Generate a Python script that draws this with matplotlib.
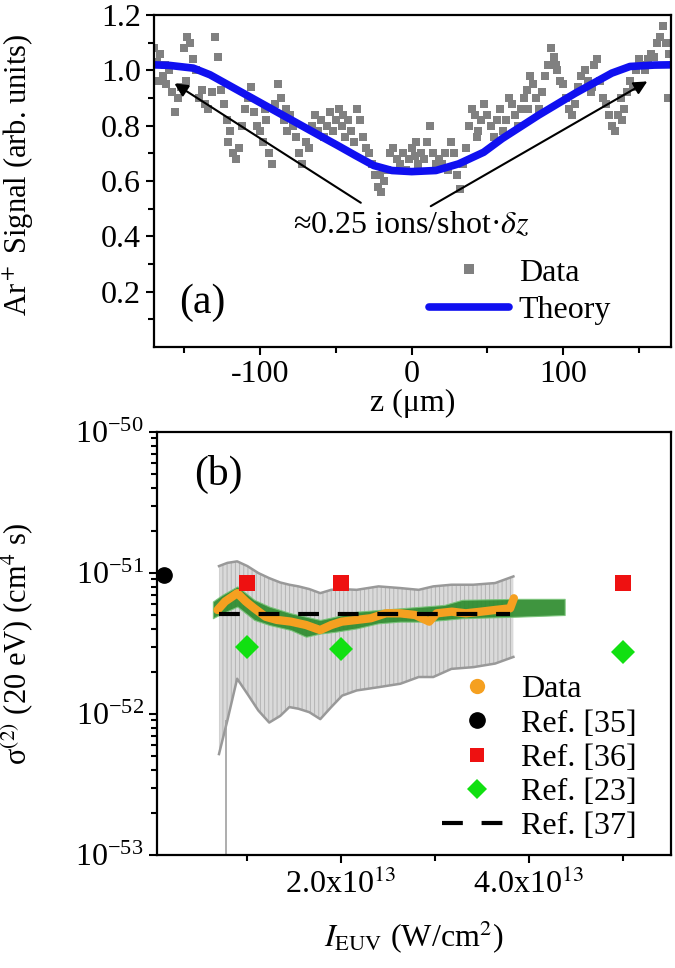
import numpy as np
import matplotlib
matplotlib.use("Agg")
import matplotlib.pyplot as plt
from matplotlib.lines import Line2D

plt.rcParams['font.family'] = ['Liberation Serif', 'DejaVu Serif']
plt.rcParams['mathtext.fontset'] = 'stix'
plt.rcParams['axes.unicode_minus'] = False
plt.rcParams['hatch.linewidth'] = 0.7

# ---- panel (a): Ar+ signal vs z ----
z_data = np.arange(-170, 171, 2)
sig_data = [
    1.08, 1.03, 1.06, 0.98, 0.95, 1.00, 0.92, 0.85, 0.90, 0.94,
    1.08, 1.12, 1.10, 1.04, 1.00, 0.90, 0.93, 0.88, 0.86, 0.92,
    1.12, 1.05, 0.93, 0.88, 0.82, 0.78, 0.70, 0.68, 0.72, 0.80,
    0.86, 0.90, 0.94, 0.85, 0.80, 0.78, 0.74, 0.82, 0.70, 0.66,
    0.88, 0.95, 0.90, 0.82, 0.78, 0.84, 0.80, 0.76, 0.70, 0.66,
    0.74, 0.72, 0.80, 0.84, 0.78, 0.82, 0.76, 0.80, 0.85, 0.78,
    0.82, 0.86, 0.80, 0.76, 0.82, 0.78, 0.74, 0.86, 0.82, 0.76,
    0.72, 0.70, 0.66, 0.62, 0.58, 0.56, 0.60, 0.64, 0.70, 0.72,
    0.68, 0.66, 0.70, 0.64, 0.68, 0.72, 0.69, 0.66, 0.70, 0.68,
    0.74, 0.80, 0.70, 0.66, 0.68, 0.66, 0.70, 0.64, 0.74, 0.70,
    0.62, 0.57, 0.66, 0.72, 0.80, 0.86, 0.84, 0.78, 0.82, 0.88,
    0.84, 0.80, 0.76, 0.82, 0.86, 0.78, 0.82, 0.90, 0.88, 0.84,
    0.80, 0.86, 0.90, 0.93, 0.98, 0.95, 0.90, 0.86, 0.92, 0.98,
    1.02, 1.08, 1.05, 1.00, 0.96, 0.95, 0.90, 0.86, 0.84, 0.88,
    0.94, 0.98, 1.00, 0.96, 0.92, 1.02, 1.04, 0.96, 0.90, 0.88,
    0.84, 0.80, 0.78, 0.84, 0.90, 0.86, 0.92, 0.96, 0.94, 1.00,
    1.04, 1.02, 1.00, 1.04, 1.06, 1.05, 1.10, 1.12, 1.16, 1.10,
    1.06,
]
# a few extra points seen off the main trace
z_extra = [-167, -163, -149, -121, -97, -83, -45, -21, 3, 43, 77, 95, 119, 139, 169]
sig_extra = [0.96, 1.02, 0.96, 0.74, 0.86, 0.86, 0.84, 0.62, 0.74, 0.76, 0.86, 1.02, 0.94, 0.82, 0.90]

z_theory = [-171, -160, -144, -133, -109, -85, -61, -49, -37, -25, -13,
            0, 16, 31, 47.5, 59.6, 83.7, 107.8, 132, 144, 160, 172]
sig_theory = [1.02, 1.018, 1.008, 0.984, 0.911, 0.838, 0.765, 0.729, 0.692,
              0.656, 0.638, 0.634, 0.638, 0.662, 0.704, 0.753, 0.838, 0.917,
              0.99, 1.014, 1.019, 1.02]

# ---- panel (b): sigma(2) vs intensity (x in 1e13 W/cm2, y in 1e-52 cm4 s) ----
I_data = [0.69, 0.77, 0.90, 0.99, 1.08, 1.20, 1.32, 1.47, 1.63, 1.78, 1.90,
          2.01, 2.17, 2.32, 2.48, 2.63, 2.79, 2.94, 3.02, 3.18, 3.33, 3.49,
          3.64, 3.80, 3.84]
s_data = [5.47, 6.28, 7.2, 6.28, 5.62, 4.9, 4.65, 4.52, 4.28, 3.94, 4.28,
          4.52, 4.65, 4.78, 5.18, 5.18, 5.04, 4.52, 5.18, 5.32, 5.18, 5.32,
          5.47, 5.62, 6.62]

I_gray = [0.705, 0.794, 0.898, 1.007, 1.123, 1.239, 1.356, 1.453, 1.550,
          1.666, 1.782, 1.898, 2.014, 2.169, 2.401, 2.634, 2.828, 2.983,
          3.176, 3.409, 3.641, 3.835]
gray_hi = [11.2, 11.8, 12.1, 11.2, 10.0, 9.2, 8.57, 8.26, 8.04, 7.69, 7.2,
           7.6, 7.69, 7.6, 8.04, 7.82, 7.6, 8.04, 8.26, 8.26, 8.49, 9.46]
gray_lo = [0.52, 0.90, 1.78, 1.39, 1.06, 0.87, 0.97, 1.12, 1.09, 1.03, 0.92,
           1.12, 1.35, 1.47, 1.55, 1.64, 1.83, 1.83, 2.09, 2.15, 2.28, 2.54]
I_spike = [0.78]
spike_lo = [0.09]
spike_hi = [0.90]

I_green = [0.64, 0.74, 0.90, 1.08, 1.24, 1.47, 1.63, 1.78, 1.94, 2.17, 2.40,
           2.63, 2.87, 3.10, 3.29, 3.87, 4.38]
green_hi = [6.28, 7.0, 8.04, 6.46, 5.78, 5.18, 4.90, 4.65, 4.90, 5.32, 5.47,
            5.62, 5.78, 5.94, 6.46, 6.56, 6.56]
green_lo = [4.78, 5.18, 5.78, 4.65, 4.28, 3.94, 3.53, 3.72, 3.83, 4.05, 4.40,
            4.52, 4.52, 4.65, 4.78, 4.90, 5.04]

I_ref35, s_ref35 = [0.116], [9.7]
I_ref36, s_ref36 = [1.0, 2.0, 5.0], [8.5, 8.5, 8.5]
I_ref23, s_ref23 = [1.0, 2.0, 5.0], [3.0, 2.9, 2.75]
I_ref37, s_ref37 = [0.705, 3.80], [5.1, 5.1]

xtick_vals = [2.0, 4.0]
xtick_labels = ['2.0x10$^{13}$', '4.0x10$^{13}$']

E13, E52 = 1e13, 1e-52
ORANGE = '#f5a020'


def scale(v, f):
    return [x * f for x in v]


fig = plt.figure(figsize=(6.75, 9.68), dpi=100)
FS = 23

# ---------------- (a) ----------------
ax1 = fig.add_axes([0.228, 0.6415, 0.766, 0.343])
ax1.plot(z_data, sig_data, 's', color='#808080', ms=6, mew=0, label='Data')
ax1.plot(z_extra, sig_extra, 's', color='#808080', ms=6, mew=0)
ax1.plot(z_theory, sig_theory, '-', color='#1010f0', lw=5.5, label='Theory',
         solid_capstyle='round')
ax1.set_xlim(-170, 171)
ax1.set_ylim(0, 1.2)
ax1.set_xticks([-100, 0, 100])
ax1.set_xticks([-150, -50, 50, 150], minor=True)
ax1.set_yticks([0.2, 0.4, 0.6, 0.8, 1.0, 1.2])
ax1.set_yticks([0.1, 0.3, 0.5, 0.7, 0.9, 1.1], minor=True)
ax1.set_yticklabels(['0.2', '0.4', '0.6', '0.8', '1.0', '1.2'])
ax1.set_xlabel('z (μm)', fontsize=FS, labelpad=0)
ax1.set_ylabel('Ar$^+$ Signal (arb. units)', fontsize=22)
ax1.yaxis.set_label_coords(-0.228, 0.52)
ax1.annotate('', xy=(-158, 0.958), xytext=(-32, 0.516),
             arrowprops=dict(arrowstyle='-|>', color='black', lw=1.5,
                             mutation_scale=20))
ax1.annotate('', xy=(157, 0.965), xytext=(11, 0.504),
             arrowprops=dict(arrowstyle='-|>', color='black', lw=1.5,
                             mutation_scale=20))
ax1.text(0, 0.44, '≈0.25 ions/shot·$\\delta z$', fontsize=FS,
         ha='center', va='center')
ax1.text(-138, 0.16, '(a)', fontsize=30, ha='center', va='center')
ax1.legend(loc='lower right', bbox_to_anchor=(0.94, -0.02), frameon=False,
           fontsize=FS, handlelength=2.5, handletextpad=0.3,
           labelspacing=0.25, markerscale=1.3)

# ---------------- (b) ----------------
ax2 = fig.add_axes([0.2326, 0.1167, 0.7614, 0.437])
ax2.set_yscale('log')
ax2.fill_between(scale(I_gray, E13), scale(gray_lo, E52), scale(gray_hi, E52),
                 facecolor='#dadada', edgecolor='#b4b4b4', lw=0,
                 hatch='||||', zorder=1)
ax2.plot(scale(I_gray, E13), scale(gray_hi, E52), color='#999999', lw=1.8, zorder=1)
ax2.plot(scale(I_gray, E13), scale(gray_lo, E52), color='#999999', lw=1.8, zorder=1)
ax2.vlines(scale(I_spike, E13), scale(spike_lo, E52), scale(spike_hi, E52),
           color='#a0a0a0', lw=1.2, zorder=1)
ax2.fill_between(scale(I_green, E13), scale(green_lo, E52), scale(green_hi, E52),
                 facecolor='#2a8a2a', edgecolor='#7ac47a', lw=0.8,
                 alpha=0.9, zorder=2)
ax2.plot(scale(I_data, E13), scale(s_data, E52), '-', color=ORANGE, lw=6,
         solid_capstyle='round', solid_joinstyle='round', zorder=3)
ax2.plot(scale(I_ref37, E13), scale(s_ref37, E52), color='black', lw=3,
         ls=(0, (5, 4.5)), zorder=4)
ax2.plot(scale(I_ref35, E13), scale(s_ref35, E52), 'o', color='black', ms=11,
         zorder=5, clip_on=False)
ax2.plot(scale(I_ref36, E13), scale(s_ref36, E52), 's', color='#ee1111', ms=12,
         mew=0, zorder=5)
ax2.plot(scale(I_ref23, E13), scale(s_ref23, E52), 'D', color='#11e011', ms=12,
         mew=0, zorder=5)
ax2.set_xlim(0.046e13, 5.51e13)
ax2.set_ylim(1e-53, 1e-50)
ax2.set_xticks(scale(xtick_vals, E13))
ax2.set_xticklabels(xtick_labels)
ax2.set_xticks(scale([1.0, 3.0, 5.0], E13), minor=True)
ax2.set_xlabel('$I_{\\mathrm{EUV}}$ (W/cm$^2$)', fontsize=FS, labelpad=14)
ax2.set_ylabel('σ$^{(2)}$ (20 eV) (cm$^4$ s)', fontsize=22)
ax2.yaxis.set_label_coords(-0.235, 0.5)
ax2.text(0.12, 0.9, '(b)', fontsize=30, ha='center', va='center',
         transform=ax2.transAxes)

handles = [
    Line2D([], [], marker='o', ls='none', color=ORANGE, ms=11, mew=0),
    Line2D([], [], marker='o', ls='none', color='black', ms=11),
    Line2D([], [], marker='s', ls='none', color='#ee1111', ms=10, mew=0),
    Line2D([], [], marker='D', ls='none', color='#11e011', ms=10, mew=0),
    Line2D([], [], color='black', lw=3, ls=(0, (5, 4.5))),
]
ax2.legend(handles, ['Data', 'Ref. [35]', 'Ref. [36]', 'Ref. [23]', 'Ref. [37]'],
           loc='lower right', bbox_to_anchor=(0.99, -0.035), frameon=False,
           fontsize=FS, handlelength=2.2, handletextpad=0.3, labelspacing=0.15)

for ax in (ax1, ax2):
    for sp in ax.spines.values():
        sp.set_linewidth(1.6)
    ax.tick_params(which='both', direction='out', width=1.5, labelsize=FS,
                   top=False, right=False)
    ax.tick_params(which='major', length=6)
    ax.tick_params(which='minor', length=4)

fig.savefig('out.png', dpi=100)
